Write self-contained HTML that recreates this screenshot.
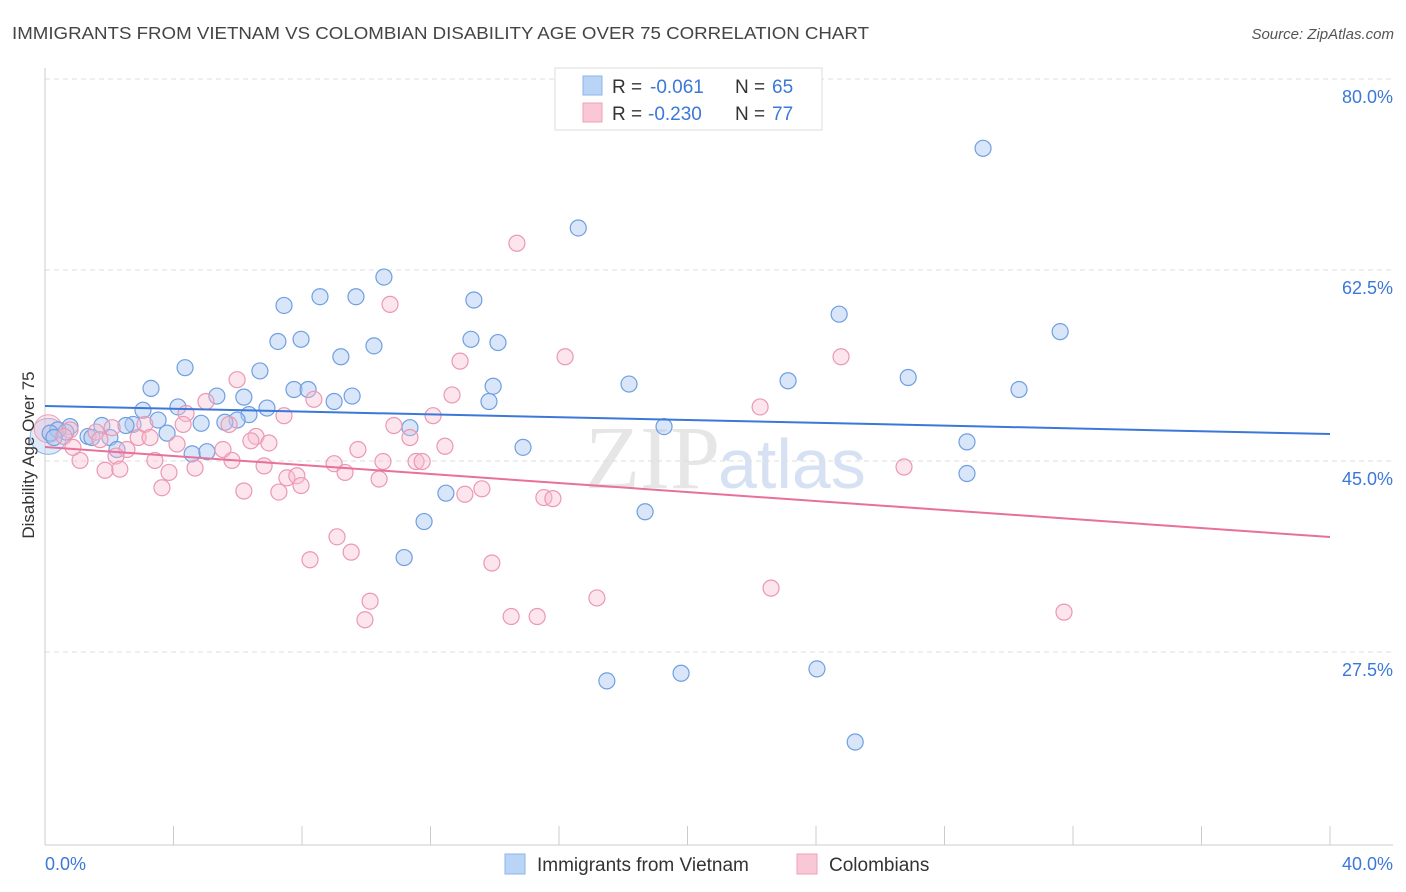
<!DOCTYPE html>
<html><head><meta charset="utf-8"><style>
body{margin:0;background:#fff;font-family:"Liberation Sans",sans-serif;}
#wrap{position:relative;width:1406px;height:892px;overflow:hidden;}
</style></head><body>
<div id="wrap">
<svg id="svg" width="1406" height="892" xmlns="http://www.w3.org/2000/svg">
<text x="12" y="39" font-size="17.5" fill="#444" textLength="857" lengthAdjust="spacingAndGlyphs">IMMIGRANTS FROM VIETNAM VS COLOMBIAN DISABILITY AGE OVER 75 CORRELATION CHART</text>
<text x="1394" y="39" font-size="15" fill="#555" font-style="italic" text-anchor="end">Source: ZipAtlas.com</text>
<text x="720" y="488" font-size="90" fill="#e6e6e6" font-family="Liberation Serif" text-anchor="end">ZIP</text>
<text x="718" y="488" font-size="70" fill="#d6e2f3">atlas</text>
<g id="grid"></g>
<g id="axes"></g>
<g id="pts"></g>
<g id="trend"></g>
<text transform="translate(34,455) rotate(-90)" font-size="17" fill="#333" text-anchor="middle">Disability Age Over 75</text>
<g>
<rect x="555" y="68" width="267" height="62" fill="#fff" stroke="#ddd"/>
<rect x="583" y="76" width="19" height="19" fill="#b9d4f5" stroke="#8ab4e8"/>
<rect x="583" y="103" width="19" height="19" fill="#f9c7d5" stroke="#f0a0b8"/>
<text x="612" y="93" font-size="19" fill="#333">R =</text>
<text x="650" y="93" font-size="19" fill="#3b78d8">-0.061</text>
<text x="735" y="93" font-size="19" fill="#333">N =</text>
<text x="772" y="93" font-size="19" fill="#3b78d8">65</text>
<text x="612" y="120" font-size="19" fill="#333">R =</text>
<text x="648" y="120" font-size="19" fill="#3b78d8">-0.230</text>
<text x="735" y="120" font-size="19" fill="#333">N =</text>
<text x="772" y="120" font-size="19" fill="#3b78d8">77</text>
</g>
<g>
<rect x="505" y="854" width="20" height="20" fill="#b9d4f5" stroke="#8ab4e8"/>
<text x="537" y="871" font-size="19" fill="#333">Immigrants from Vietnam</text>
<rect x="797" y="854" width="20" height="20" fill="#f9c7d5" stroke="#f0a0b8"/>
<text x="829" y="871" font-size="19" fill="#333">Colombians</text>
</g>
</svg>
</div>
<script>
const yTicks=[80,62.5,45,27.5];
const yTickLabels=["80.0%","62.5%","45.0%","27.5%"];
const xTickVals=[0,4,8,12,16,20,24,28,32,36,40];
const blueX=[29.2,16.6,10.55,8.56,9.68,7.44,13.35,24.72,31.6,7.25,7.97,13.26,14.1,10.24,9.21,4.36,6.69,3.3,7.75,8.19,9.56,13.95,18.18,23.13,26.87,30.32,5.35,6.19,9.0,13.82,4.14,3.05,6.91,6.35,5.98,5.6,4.86,3.52,2.74,2.52,1.77,0.78,0.65,0.4,0.16,0.28,1.34,2.02,1.46,3.8,11.36,19.27,14.88,28.7,4.58,5.04,2.24,28.7,12.48,18.68,11.8,11.18,17.49,19.8,24.03,25.22];
const blueY=[75.3,68.0,63.5,61.7,61.7,60.9,61.4,60.1,58.5,57.6,57.8,57.8,57.5,57.2,56.2,55.2,54.9,53.3,53.2,53.2,52.6,53.5,53.7,54.0,54.3,53.2,52.6,52.5,52.1,52.1,51.6,51.3,51.5,50.9,50.4,50.2,50.1,50.4,50.0,49.9,49.9,49.8,49.3,49.5,49.2,48.8,48.9,48.8,48.8,49.2,49.7,49.8,47.9,48.4,47.3,47.5,47.7,45.5,43.7,42.0,41.1,37.8,26.5,27.2,27.6,20.9];
const pinkX=[14.69,10.74,12.92,16.19,24.78,5.98,12.67,8.37,5.01,22.26,4.39,7.44,12.08,10.86,5.73,4.3,3.11,2.09,1.59,0.78,0.59,2.9,3.27,4.11,6.57,6.97,6.41,11.36,12.45,9.74,5.54,2.55,2.21,3.42,1.09,5.82,9.0,6.82,10.52,11.55,11.74,9.34,3.86,4.67,1.87,2.33,7.53,7.84,10.4,7.97,3.64,6.19,7.28,13.6,13.07,15.53,15.81,26.74,9.09,9.53,8.25,13.91,10.12,17.18,22.6,31.72,14.51,15.32,9.96,1.71,0.87];
const pinkY=[66.6,61.0,55.8,56.2,56.2,54.1,52.7,52.3,52.1,51.6,51.0,50.8,50.8,49.9,50.0,50.0,50.0,49.7,49.3,49.5,48.9,48.8,48.8,48.2,48.9,48.3,48.5,48.8,48.0,47.7,47.7,47.7,47.1,46.7,46.7,46.7,46.4,46.2,46.6,46.6,46.6,45.6,45.6,46.0,45.8,45.9,45.1,45.3,45.0,44.4,44.2,43.9,43.8,44.1,43.6,43.3,43.2,46.1,39.7,38.3,37.6,37.3,33.8,34.1,35.0,32.8,32.4,32.4,32.1,48.6,47.9];
const blueTrend=[51.69,49.12];
const pinkTrend=[47.93,39.68];
const NS="http://www.w3.org/2000/svg";
const xs=v=>45+v*32.125;
const ys=v=>97+(80-v)*10.914;
function mk(tag,attrs,parent){const e=document.createElementNS(NS,tag);for(const k in attrs)e.setAttribute(k,attrs[k]);document.getElementById(parent).appendChild(e);return e;}
yTicks.forEach((t,i)=>{
 const g=mk('line',{x1:45,x2:1393,y1:ys(t)-18,y2:ys(t)-18,stroke:'#ddd','stroke-dasharray':'5,4'},'grid');
 
 
 const l=mk('text',{x:1393,y:ys(t)+6,'font-size':18,fill:'#3b78d8','text-anchor':'end'},'grid');
 l.textContent=yTickLabels[i];
 
 
});
const ax=mk('line',{x1:45,x2:45,y1:68,y2:845,stroke:'#ccc'},'axes');


const bx=mk('line',{x1:45,x2:1393,y1:845,y2:845,stroke:'#ccc'},'axes');


xTickVals.forEach(t=>{
 const tk=mk('line',{x1:xs(t),x2:xs(t),y1:826,y2:845,stroke:'#ccc'},'axes');
 
 
});
const x0=mk('text',{x:45,y:870,'font-size':18,fill:'#3b78d8'},'axes');x0.textContent='0.0%';


const x1=mk('text',{x:1393,y:870,'font-size':18,fill:'#3b78d8','text-anchor':'end'},'axes');x1.textContent='40.0%';


const bb=mk('circle',{cx:xs(0.1),cy:ys(48.9),r:18,fill:'rgba(160,195,240,0.35)',stroke:'#8ab4e8'},'pts');


const pb=mk('circle',{cx:xs(0.1),cy:ys(49.6),r:14,fill:'rgba(245,180,200,0.35)',stroke:'#f0a0b8'},'pts');


blueX.forEach((v,i)=>{
 const c=mk('circle',{cx:xs(v),cy:ys(blueY[i]),r:8,fill:'rgba(170,200,242,0.45)',stroke:'#6f9fe0','stroke-width':1.2},'pts');
 
 
});
pinkX.forEach((v,i)=>{
 const c=mk('circle',{cx:xs(v),cy:ys(pinkY[i]),r:8,fill:'rgba(248,190,208,0.4)',stroke:'#eb98b3','stroke-width':1.2},'pts');
 
 
});
const bt=mk('line',{x1:xs(0),x2:xs(40),y1:ys(blueTrend[0]),y2:ys(blueTrend[1]),stroke:'#3b78d8','stroke-width':2},'trend');


const pt=mk('line',{x1:xs(0),x2:xs(40),y1:ys(pinkTrend[0]),y2:ys(pinkTrend[1]),stroke:'#e8709a','stroke-width':2},'trend');


</script>
</body></html>
